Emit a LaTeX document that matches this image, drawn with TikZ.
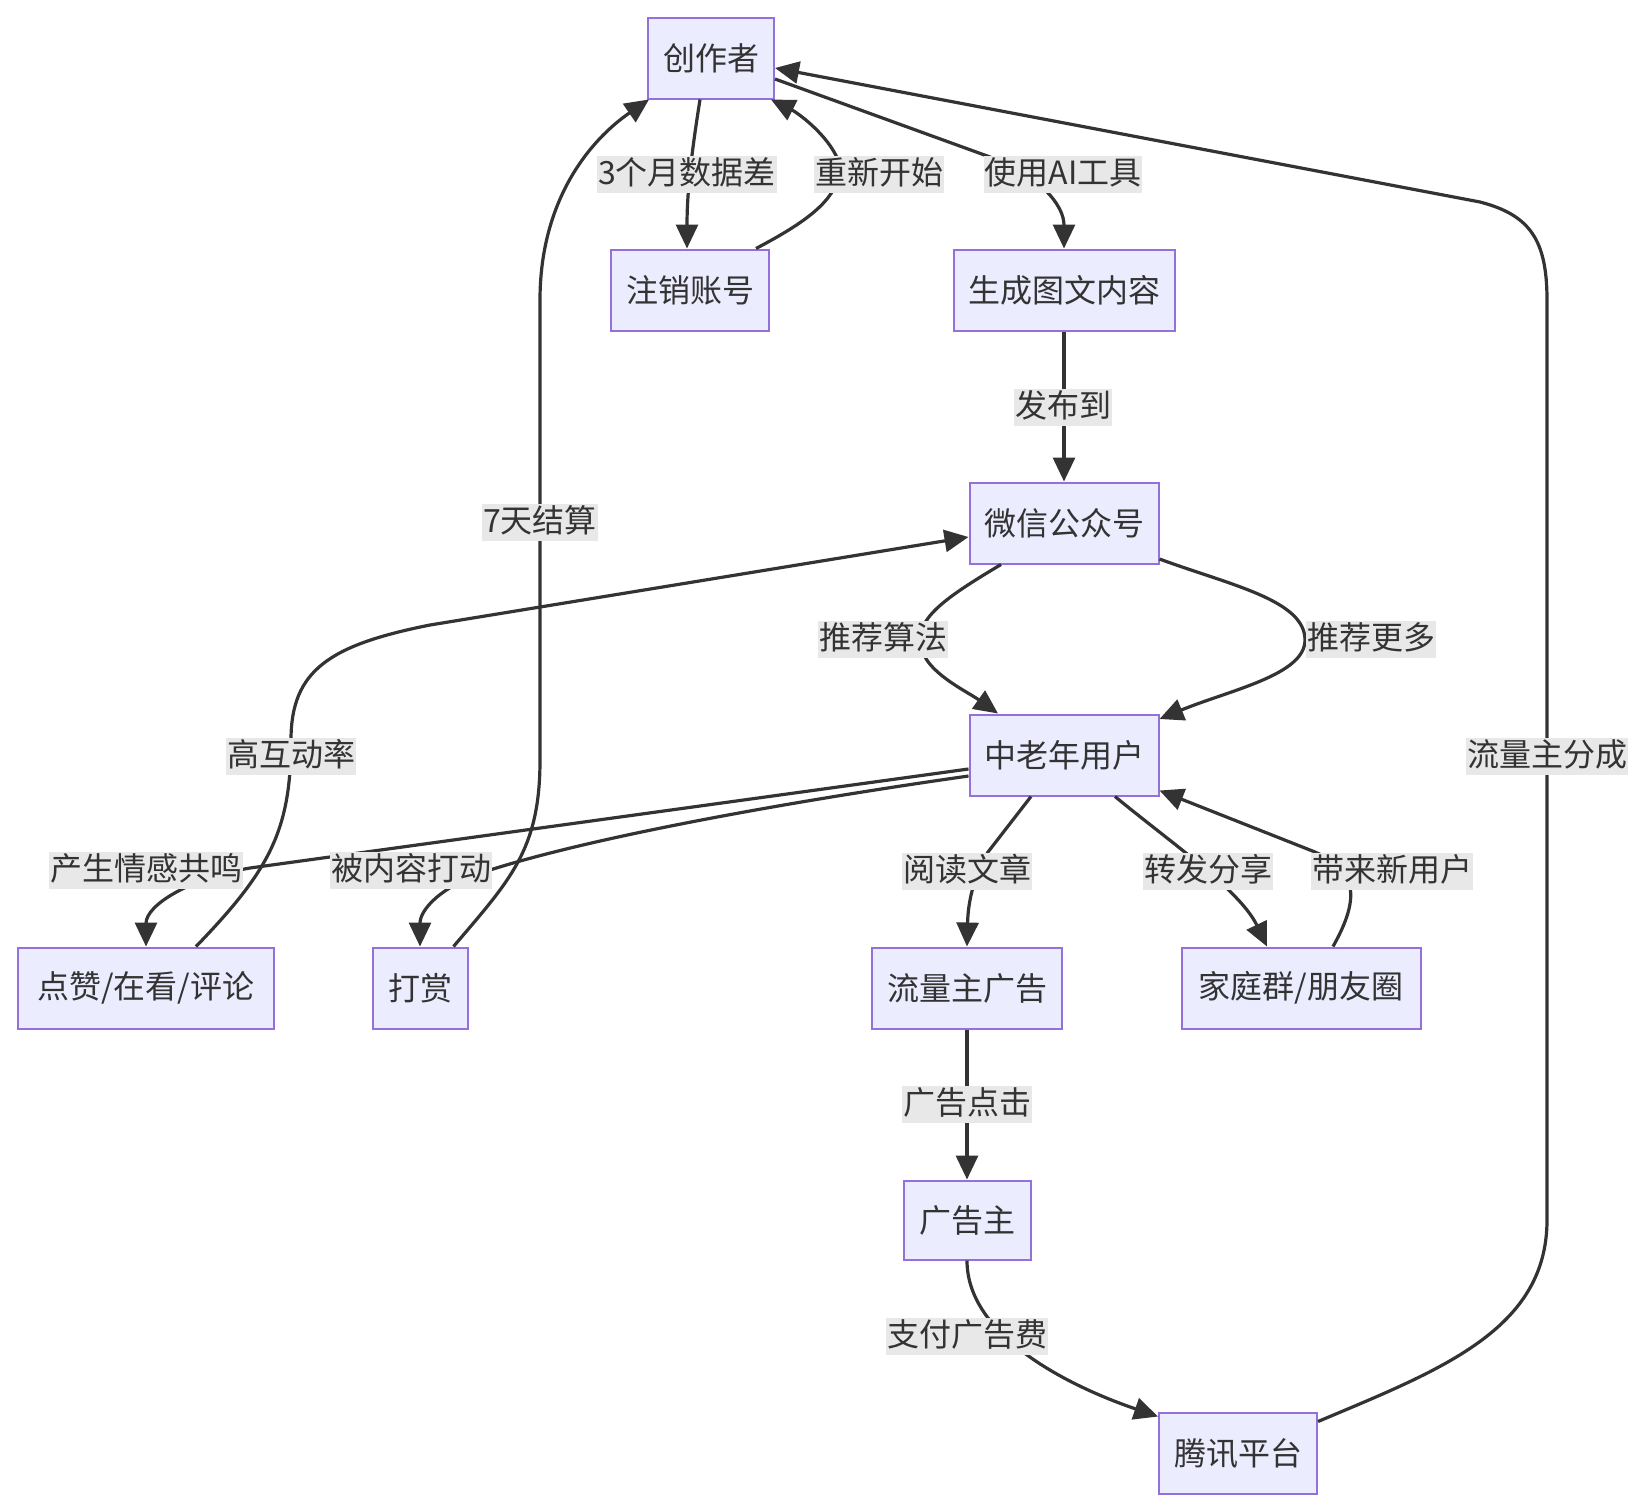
\documentclass[tikz,border=0pt]{standalone}
\usepackage{fontspec}
\setmainfont{Noto Sans CJK SC}
\usetikzlibrary{arrows.meta}
\definecolor{nodefill}{HTML}{ECECFF}
\definecolor{nodeline}{HTML}{9370DB}
\definecolor{edgec}{HTML}{333333}
\definecolor{lblbg}{HTML}{E8E8E8}
\begin{document}
\begin{tikzpicture}[x=0.5pt,y=-0.5pt,
  box/.style={draw=nodeline, fill=nodefill, line width=1pt, text=edgec,
    font=\fontsize{16pt}{19pt}\selectfont, minimum height=40.5pt, inner sep=0pt},
  lbl/.style={fill=lblbg, text=edgec, font=\fontsize{16pt}{19pt}\selectfont,
    inner sep=0pt, inner xsep=0.5pt, text height=14.5pt, text depth=4pt},
  ed/.style={draw=edgec, line width=1.6pt, -{Triangle[length=12pt,width=11pt]}},
]
\useasboundingbox (0,0) rectangle (1644,1510);
\fill[white] (0,0) rectangle (1644,1510);

% nodes
\node[box, minimum width=63pt]   (cz) at (711,58)   {创作者};
\node[box, minimum width=79pt]   (zx) at (690,290)  {注销账号};
\node[box, minimum width=110.5pt] (sc) at (1064,290) {生成图文内容};
\node[box, minimum width=94.5pt] (wx) at (1064,523) {微信公众号};
\node[box, minimum width=94.5pt] (zl) at (1064,755) {中老年用户};
\node[box, minimum width=128pt]  (dz) at (146,988)  {点赞/在看/评论};
\node[box, minimum width=47.5pt] (ds) at (420,988)  {打赏};
\node[box, minimum width=95pt]   (ll) at (967,988)  {流量主广告};
\node[box, minimum width=119.5pt] (jt) at (1301,988) {家庭群/朋友圈};
\node[box, minimum width=63.5pt, minimum height=39.5pt] (gg) at (967,1220) {广告主};
\node[box, minimum width=79pt]   (tx) at (1238,1453) {腾讯平台};

% edges
\draw[ed] ([xshift=-5.5pt]cz.south) .. controls (692,150) and (687,190) .. ([xshift=-1.5pt]zx.north);
\draw[ed] ([xshift=-7pt]zx.north east) .. controls (810,220) and (845,195) .. (838,160)
          .. controls (828,135) and (798,113) .. ([xshift=-2pt]cz.south east);
\draw[ed] ([yshift=-10.5pt]cz.east) -- (990,157) .. controls (1040,176) and (1064,205) .. (sc.north);
\draw[ed] (sc.south) -- (wx.north);
\draw[ed] ([xshift=-31.5pt]wx.south) .. controls (950,595) and (920,615) .. (920,640)
          .. controls (920,670) and (965,690) .. ([xshift=-33pt]zl.north);
\draw[ed] ([yshift=-18pt]wx.east) .. controls (1230,585) and (1305,600) .. (1305,640)
          .. controls (1305,675) and (1230,690) .. ([yshift=18pt]zl.east);
\draw[ed] ([xshift=25pt]dz.north) .. controls (270,870) and (291,830) .. (291,740)
          .. controls (291,670) and (330,645) .. (430,625) -- ([yshift=-7pt]wx.west);
\draw[ed] ([xshift=-7.5pt]ds.north east) .. controls (510,880) and (540,850) .. (540,760)
          -- (540,300) .. controls (540,200) and (590,140) .. ([xshift=1pt]cz.south west);
\draw[ed] ([yshift=-7pt]zl.west) -- (250,868) .. controls (190,878) and (146,905) .. (dz.north);
\draw[ed] ([yshift=-10.5pt]zl.west) .. controls (800,800) and (600,835) .. (490,870)
          .. controls (440,886) and (420,910) .. (ds.north);
\draw[ed] ([xshift=-16.5pt]zl.south) -- (988,852) .. controls (972,880) and (968,905) .. (ll.north);
\draw[ed] ([xshift=25.5pt]zl.south) .. controls (1170,842) and (1240,890) .. ([xshift=-17pt]jt.north);
\draw[ed] ([xshift=16pt]jt.north) .. controls (1362,895) and (1355,870) .. (1315,852)
          -- ([yshift=3pt]zl.south east);
\draw[ed] (ll.south) -- (gg.north);
\draw[ed] (gg.south) .. controls (967,1340) and (1080,1390) .. ([yshift=-2.5pt]tx.north west);
\draw[ed] ([yshift=-5pt]tx.north east) .. controls (1440,1370) and (1547,1330) .. (1547,1220)
          -- (1547,300) .. controls (1547,240) and (1530,215) .. (1480,202) -- ([yshift=-5pt]cz.east);

% edge labels
\node[lbl] (l1)  at (687,174)  {3个月数据差};
\node[lbl] (l2)  at (879,174)  {重新开始};
\node[lbl] (l3)  at (1063,174) {使用AI工具};
\node[lbl] (l4)  at (1063,407) {发布到};
\node[lbl] (l5)  at (883,639)  {推荐算法};
\node[lbl] (l6)  at (1371,639) {推荐更多};
\node[lbl] (l7)  at (540,522)  {7天结算};
\node[lbl] (l8)  at (291,756)  {高互动率};
\node[lbl] (l9)  at (1547,756) {流量主分成};
\node[lbl] (l10) at (146,870)  {产生情感共鸣};
\node[lbl] (l11) at (411,870)  {被内容打动};
\node[lbl] (l12) at (967,871)  {阅读文章};
\node[lbl] (l13) at (1208,871) {转发分享};
\node[lbl] (l14) at (1392,871) {带来新用户};
\node[lbl] (l15) at (967,1104) {广告点击};
\node[lbl] (l16) at (967,1336) {支付广告费};
\end{tikzpicture}
\end{document}
